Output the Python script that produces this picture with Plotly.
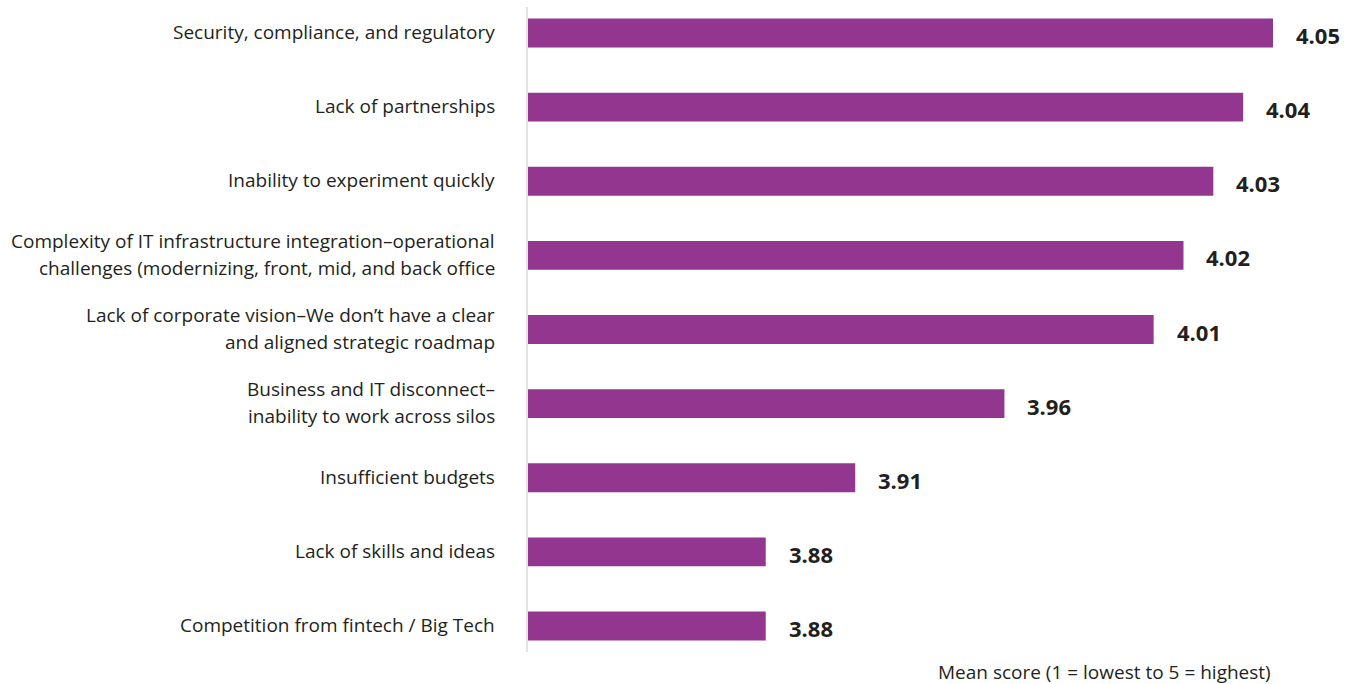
import plotly.graph_objects as go

categories = [
    "Security, compliance, and regulatory",
    "Lack of partnerships",
    "Inability to experiment quickly",
    "Complexity of IT infrastructure integration–operational\nchallenges (modernizing, front, mid, and back office",
    "Lack of corporate vision–We don’t have a clear\nand aligned strategic roadmap",
    "Business and IT disconnect–\ninability to work across silos",
    "Insufficient budgets",
    "Lack of skills and ideas",
    "Competition from fintech / Big Tech",
]
values = [4.05, 4.04, 4.03, 4.02, 4.01, 3.96, 3.91, 3.88, 3.88]
value_labels = ["4.05", "4.04", "4.03", "4.02", "4.01", "3.96", "3.91", "3.88", "3.88"]

FONT = "Open Sans"
TXT = "#231f20"
LABEL_SIZE = 19
LINE_GAP = 27

fig = go.Figure()
fig.add_trace(go.Bar(
    x=values, y=categories, orientation="h",
    marker=dict(color="#93368f", line=dict(width=0)),
    width=0.39, hoverinfo="skip",
))

for c, v, t in zip(categories, values, value_labels):
    fig.add_annotation(x=v, y=c, text="<b>" + t + "</b>", showarrow=False,
                       xanchor="left", xshift=21, yshift=-2,
                       font=dict(family=FONT, size=22, color=TXT))
    lines = c.split("\n")
    n = len(lines)
    for i, ln in enumerate(lines):
        off = ((n - 1) / 2 - i) * LINE_GAP + 1
        fig.add_annotation(xref="paper", x=0, y=c, text=ln, showarrow=False,
                           xanchor="right", xshift=-30, yshift=off,
                           font=dict(family=FONT, size=LABEL_SIZE, color=TXT))

fig.add_annotation(xref="paper", yref="paper", x=0.921, y=-0.008,
                   xanchor="right", yanchor="top", showarrow=False,
                   text="Mean score (1 = lowest to 5 = highest)",
                   font=dict(family=FONT, size=LABEL_SIZE, color=TXT))

fig.add_shape(type="line", xref="paper", yref="paper", x0=0, x1=0, y0=0, y1=1,
              line=dict(color="#e3e3e3", width=2))

fig.update_layout(
    width=1357, height=684,
    margin=dict(l=527, r=20, t=7, b=32),
    plot_bgcolor="white", paper_bgcolor="white",
    showlegend=False,
    xaxis=dict(range=[3.8, 3.8 + 810 / 2984], visible=False, fixedrange=True),
    yaxis=dict(range=[8.35, -0.35], showgrid=False, zeroline=False, showline=False,
               ticks="", showticklabels=False),
)

fig.write_html("out.html")
